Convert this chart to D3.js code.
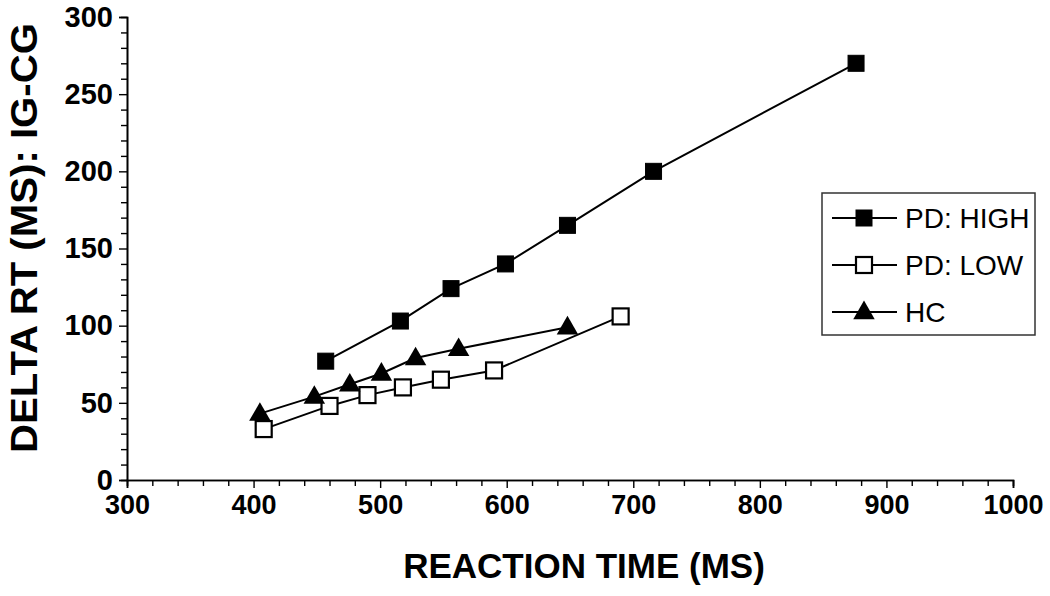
<!DOCTYPE html>
<html>
<head>
<meta charset="utf-8">
<script src="https://cdn.jsdelivr.net/npm/d3@7"></script>
<style>
  html, body { margin: 0; padding: 0; background: #fff; }
  svg { display: block; }
  text { font-family: "Liberation Sans", Arial, sans-serif; fill: #000; }
</style>
</head>
<body>
<svg id="chart" width="1050" height="596"></svg>
<script>
// ---- data ----
const seriesNames = ["PD: HIGH", "PD: LOW", "HC"];
const pdHighRT    = [457, 516, 556, 599, 648, 716, 876];
const pdHighDelta = [77, 103, 124, 140, 165, 200, 270];
const pdLowRT     = [408, 460, 490, 518, 548, 590, 690];
const pdLowDelta  = [33, 48, 55, 60, 65, 71, 106];
const hcRT        = [405, 448, 476, 501, 528, 562, 648];
const hcDelta     = [43, 54, 62, 69, 79, 85, 99];
const xTickValues = [300, 400, 500, 600, 700, 800, 900, 1000];
const yTickValues = [0, 50, 100, 150, 200, 250, 300];
const xTitle = "REACTION TIME (MS)";
const yTitle = "DELTA RT (MS): IG-CG";

const series = [
  { name: seriesNames[0], x: pdHighRT, y: pdHighDelta, marker: "square", fill: "#000" },
  { name: seriesNames[1], x: pdLowRT,  y: pdLowDelta,  marker: "square", fill: "#fff" },
  { name: seriesNames[2], x: hcRT,     y: hcDelta,     marker: "triangle", fill: "#000" }
];

const svg = d3.select("#chart");
const x = d3.scaleLinear().domain([300, 1000]).range([127, 1013]);
const y = d3.scaleLinear().domain([0, 300]).range([480, 17]);

// minor ticks
const xMinor = d3.range(300, 1001, 20).filter(v => v % 100 !== 0);
const yMinor = d3.range(0, 301, 10).filter(v => v % 50 !== 0);

const gx = svg.append("g").attr("transform", `translate(0,${y(0)})`);
gx.call(d3.axisBottom(x).tickValues(xMinor).tickSize(6).tickFormat(""));
gx.append("g").call(d3.axisBottom(x).tickValues(xTickValues).tickSize(8).tickPadding(7).tickFormat(d3.format("d")));
gx.selectAll(".domain").attr("stroke", "#000").attr("stroke-width", 1.6);
gx.selectAll(".tick line").attr("stroke", "#000").attr("stroke-width", 1.4);
gx.selectAll(".tick text").attr("font-size", 27).attr("font-weight", "bold")
  .attr("font-family", "'Liberation Sans', Arial, sans-serif").attr("fill", "#000");

const gy = svg.append("g").attr("transform", `translate(${x(300)},0)`);
gy.call(d3.axisLeft(y).tickValues(yMinor).tickSize(6).tickFormat(""));
gy.append("g").call(d3.axisLeft(y).tickValues(yTickValues).tickSize(8).tickPadding(6).tickFormat(d3.format("d")));
gy.selectAll(".domain").attr("stroke", "#000").attr("stroke-width", 1.6);
gy.selectAll(".tick line").attr("stroke", "#000").attr("stroke-width", 1.4);
gy.selectAll(".tick text").attr("font-size", 29).attr("font-weight", "bold")
  .attr("font-family", "'Liberation Sans', Arial, sans-serif").attr("fill", "#000");

// titles
svg.append("text").attr("x", 584).attr("y", 578).attr("text-anchor", "middle")
  .attr("font-size", 35).attr("font-weight", "bold").text(xTitle);
svg.append("text").attr("transform", `translate(37,238) rotate(-90)`)
  .attr("text-anchor", "middle").attr("font-size", 36).attr("font-weight", "bold")
  .attr("textLength", 430).attr("lengthAdjust", "spacingAndGlyphs").text(yTitle);

// markers
const sqSize = 16;
const triPath = d3.symbol().type(d3.symbolTriangle).size(200)();
function drawMarker(g, s, cx, cy) {
  if (s.marker === "square") {
    g.append("rect").attr("x", cx - sqSize / 2).attr("y", cy - sqSize / 2)
      .attr("width", sqSize).attr("height", sqSize)
      .attr("fill", s.fill).attr("stroke", "#000").attr("stroke-width", s.fill === "#fff" ? 2.2 : 1);
  } else {
    g.append("path").attr("d", triPath).attr("transform", `translate(${cx},${cy + 1})`)
      .attr("fill", "#000");
  }
}

const line = d3.line().x(d => x(d[0])).y(d => y(d[1]));
series.forEach(s => {
  const pts = s.x.map((v, i) => [v, s.y[i]]);
  svg.append("path").datum(pts).attr("d", line)
    .attr("fill", "none").attr("stroke", "#000").attr("stroke-width", 2);
  const g = svg.append("g");
  pts.forEach(p => drawMarker(g, s, x(p[0]), y(p[1])));
});

// legend
const lg = svg.append("g");
lg.append("rect").attr("x", 822).attr("y", 193).attr("width", 213).attr("height", 142)
  .attr("fill", "#fff").attr("stroke", "#333").attr("stroke-width", 1.5);
const rowY = [218, 265, 312];
series.forEach((s, i) => {
  lg.append("line").attr("x1", 832).attr("x2", 897).attr("y1", rowY[i]).attr("y2", rowY[i])
    .attr("stroke", "#000").attr("stroke-width", 2);
  drawMarker(lg, s, 864, rowY[i]);
  lg.append("text").attr("x", 905).attr("y", rowY[i]).attr("dy", "0.35em")
    .attr("font-size", 28).attr("fill", "#111").text(s.name);
});
</script>
</body>
</html>
